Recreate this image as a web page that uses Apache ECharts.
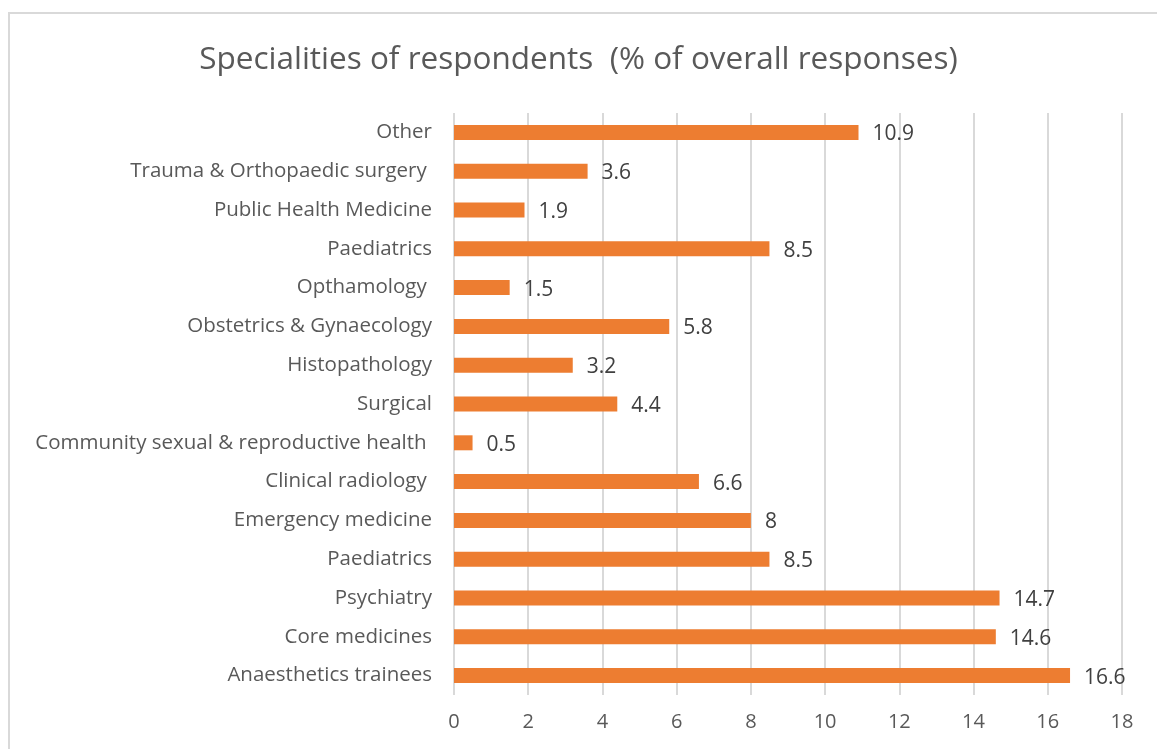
<!DOCTYPE html>
<html>
<head>
<meta charset="utf-8">
<script src="https://cdn.jsdelivr.net/npm/echarts@6/dist/echarts.min.js"></script>
<style>
  html, body { margin: 0; padding: 0; background: #fff; }
  #frame {
    position: absolute; left: 8px; top: 12px; width: 1160px; height: 750px;
    border: 2px solid #d9d9d9; box-sizing: border-box;
  }
  #chart { position: absolute; left: 0; top: 0; width: 1157px; height: 749px; }
</style>
</head>
<body>
<div id="frame"></div>
<div id="chart"></div>
<script>
// bottom to top, as drawn (some source labels carry a trailing space)
const specialities = [
  'Anaesthetics trainees',
  'Core medicines',
  'Psychiatry',
  'Paediatrics',
  'Emergency medicine',
  'Clinical radiology ',
  'Community sexual & reproductive health ',
  'Surgical',
  'Histopathology',
  'Obstetrics & Gynaecology',
  'Opthamology ',
  'Paediatrics',
  'Public Health Medicine',
  'Trauma & Orthopaedic surgery ',
  'Other'
]
const percentages = [16.6, 14.6, 14.7, 8.5, 8, 6.6, 0.5, 4.4, 3.2, 5.8, 1.5, 8.5, 1.9, 3.6, 10.9]

const font = '"Open Sans", "Noto Sans", sans-serif'
const chart = echarts.init(document.getElementById('chart'))

chart.setOption({
  animation: false,
  title: {
    text: 'Specialities of respondents  (% of overall responses)',
    left: 'center',
    top: 39,
    textStyle: { color: '#595959', fontSize: 31.5, fontWeight: 'normal', fontFamily: font }
  },
  grid: { left: 454, right: 35, top: 113, bottom: 54 },
  xAxis: {
    type: 'value',
    min: 0,
    max: 18,
    interval: 2,
    axisLine: { show: false },
    axisTick: { show: false },
    axisLabel: { color: '#595959', fontSize: 20, fontFamily: font, margin: 17 },
    splitLine: { show: true, lineStyle: { color: '#d9d9d9', width: 2 } }
  },
  yAxis: {
    type: 'category',
    data: specialities,
    axisLine: { show: false },
    axisTick: { show: false },
    axisLabel: { color: '#595959', fontSize: 20.5, fontFamily: font, margin: 22 }
  },
  series: [{
    type: 'bar',
    data: percentages,
    barWidth: 15,
    itemStyle: { color: '#ED7D31' },
    label: {
      show: true,
      position: 'right',
      distance: 14,
      offset: [0, 2],
      color: '#404040',
      fontSize: 21,
      fontFamily: font
    }
  }]
})
</script>
</body>
</html>
